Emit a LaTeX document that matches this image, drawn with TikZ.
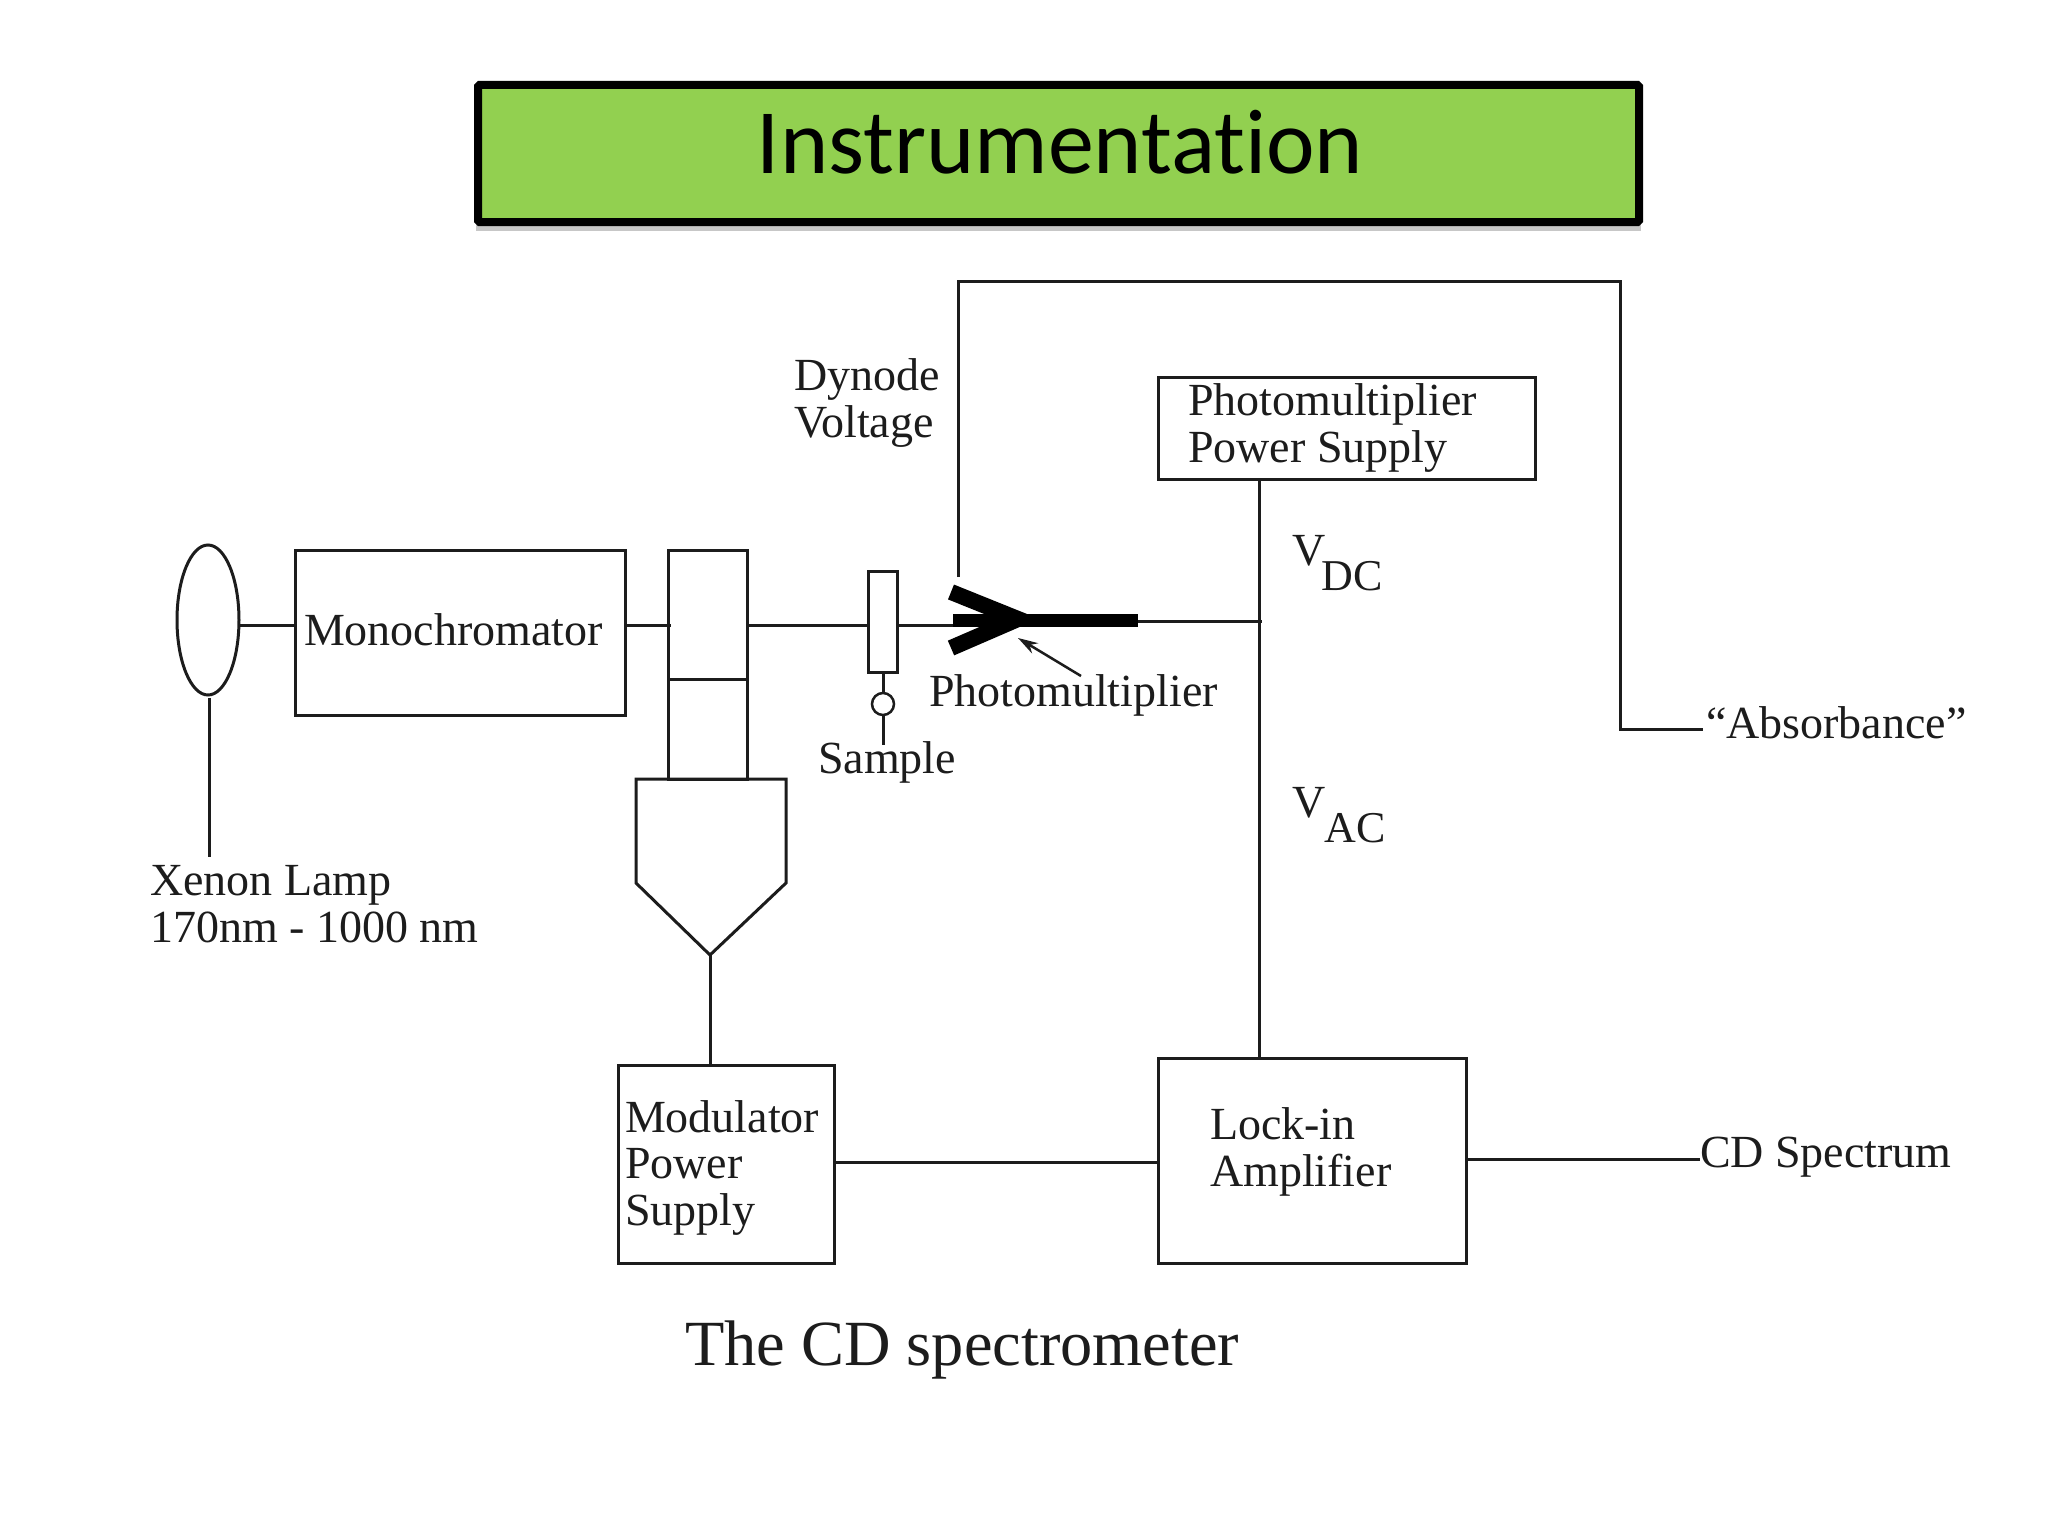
\documentclass[tikz,border=0pt]{standalone}
\usepackage{fontspec}
\setmainfont{Liberation Serif}
\newfontfamily\titlefont[Ligatures=NoCommon]{Carlito}
\usetikzlibrary{shapes.geometric,arrows.meta}
\definecolor{ink}{HTML}{1C1C1C}
\definecolor{titlegreen}{HTML}{92D050}
\tikzset{
  wire/.style={draw=ink,line width=3pt,line cap=butt},
  boxn/.style={draw=ink,line width=3pt,rectangle,inner sep=0pt,outer sep=0pt},
  lbl/.style={inner sep=0pt,outer sep=0pt,anchor=base west,text=ink,align=left,
    font=\fontsize{46}{46.5}\selectfont},
  pmt/.style={draw=black,line cap=butt,line join=miter},
}
\begin{document}
\begin{tikzpicture}[x=1pt,y=-1pt]
\useasboundingbox (0,0) rectangle (2048,1536);
\fill[white] (0,0) rectangle (2048,1536);
% title
\fill[black!22] (476,222) rectangle (1641,231);
\node[draw=black,fill=titlegreen,line width=8pt,rounded corners=1.5pt,inner sep=0pt,outer sep=0pt,
  minimum width=1161pt,minimum height=137pt] (titlebox) at (1058.5,153.5) {};
\node[inner sep=0pt,anchor=base,text=black,font=\titlefont\fontsize{92}{92}\selectfont] (titletext) at (1060,173) {Instrumentation};
% components
\node[draw=ink,line width=3pt,ellipse,inner sep=0pt,outer sep=0pt,minimum width=62pt,minimum height=150pt] (lamp) at (208,620) {};
\node[boxn,minimum width=330pt,minimum height=165pt] (mono) at (460.5,632.5) {};
\node[boxn,minimum width=79pt,minimum height=129pt] (modtop) at (707.5,614.5) {};
\node[boxn,minimum width=79pt,minimum height=100pt] (modmid) at (707.5,729) {};
\coordinate (tip) at (710,955);
\draw[wire,line join=miter] (636,779) -- (786,779) -- (786,883) -- (tip) -- (636,883) -- cycle;
\node[boxn,minimum width=29pt,minimum height=101pt] (samplebox) at (882.5,622) {};
\node[draw=ink,line width=2.5pt,circle,inner sep=0pt,outer sep=0pt,minimum size=22pt] (samplecirc) at (883,704) {};
\node[boxn,minimum width=377pt,minimum height=102pt] (pmps) at (1346.5,428) {};
\node[boxn,minimum width=216pt,minimum height=198pt] (modps) at (726,1164) {};
\node[boxn,minimum width=308pt,minimum height=205pt] (lock) at (1312,1160.5) {};
% photomultiplier
\coordinate (pmleft) at (953,620.5);
\coordinate (pmright) at (1138,620.5);
\coordinate (pmapex) at (1018,619);
\coordinate (pmtop) at (958,577);
\draw[pmt,line width=13pt] (pmleft) -- (pmright);
\draw[pmt,line width=16pt] (951,592) -- (pmapex) -- (951,648);
% labels
\node[lbl] (monotxt) at (304,645) {Monochromator};
\node[lbl] (xenon) at (150,942) {Xenon Lamp\\170nm - 1000 nm};
\node[lbl] (dynode) at (794,437) {Dynode\\Voltage};
\node[lbl] (pmpstxt) at (1188,462) {Photomultiplier\\Power Supply};
\node[lbl] (pmtxt) at (929,706) {Photomultiplier};
\node[lbl] (sampletxt) at (818,773) {Sample};
\node[lbl] (vdc) at (1292,565) {V\kern-4pt\raisebox{-25pt}{\fontsize{44}{44}\selectfont DC}};
\node[lbl] (vac) at (1292,817) {V\kern-1pt\raisebox{-25pt}{\fontsize{44}{44}\selectfont AC}};
\node[lbl] (absorb) at (1706,738) {“Absorbance”};
\node[lbl] (modtxt) at (625,1225) {Modulator\\Power\\Supply};
\node[lbl] (locktxt) at (1210,1186) {Lock-in\\Amplifier};
\node[lbl] (cdtxt) at (1700,1167) {CD Spectrum};
\node[lbl,font=\fontsize{64.4}{64.4}\selectfont] (caption) at (685,1365) {The CD spectrometer};
% connectors
\coordinate (beam) at (0,625);
\coordinate (pmline) at (0,621);
\coordinate (junction) at (1262,621);
\coordinate (dyntop) at (958,281);
\coordinate (dynright) at (1620,281);
\coordinate (abselbow) at (1620,729);
\coordinate (lampend) at (209,857);
\coordinate (sampleend) at (883,745);
\coordinate (arrowstart) at (1081,676);
\coordinate (arrowend) at (1018,638);
\coordinate (pmsupplyx) at (1259,0);
\draw[wire] (lamp.east |- beam) -- (mono.west |- beam);
\draw[wire] (mono.east |- beam) -- ([xshift=3pt]modtop.west |- beam);
\draw[wire] (modtop.east |- beam) -- (samplebox.west |- beam);
\draw[wire] (samplebox.east |- beam) -- (pmleft |- beam);
\draw[wire] (pmright |- pmline) -- (junction);
\draw[wire] ([yshift=-3pt]lamp.south -| lampend) -- (lampend);
\draw[wire] (samplebox.south -| samplecirc) -- (samplecirc.north);
\draw[wire] (samplecirc.south) -- (sampleend);
\draw[wire] (tip) -- (modps.north -| tip);
\draw[wire] (pmps.south -| pmsupplyx) -- (lock.north -| pmsupplyx);
\draw[wire,line join=miter] (pmtop) -- (dyntop) -- (dynright) -- (abselbow) -- ([xshift=-3pt]absorb.west |- abselbow);
\draw[wire] ([yshift=2pt]modps.east) -- ([yshift=2pt]modps.east -| lock.west);
\draw[wire] ([yshift=1.5pt]lock.east) -- ([yshift=1.5pt]lock.east -| cdtxt.west);
\draw[draw=ink,line width=2.5pt,-{Stealth[length=20pt,width=12pt]}] (arrowstart) -- (arrowend);
\end{tikzpicture}
\end{document}
